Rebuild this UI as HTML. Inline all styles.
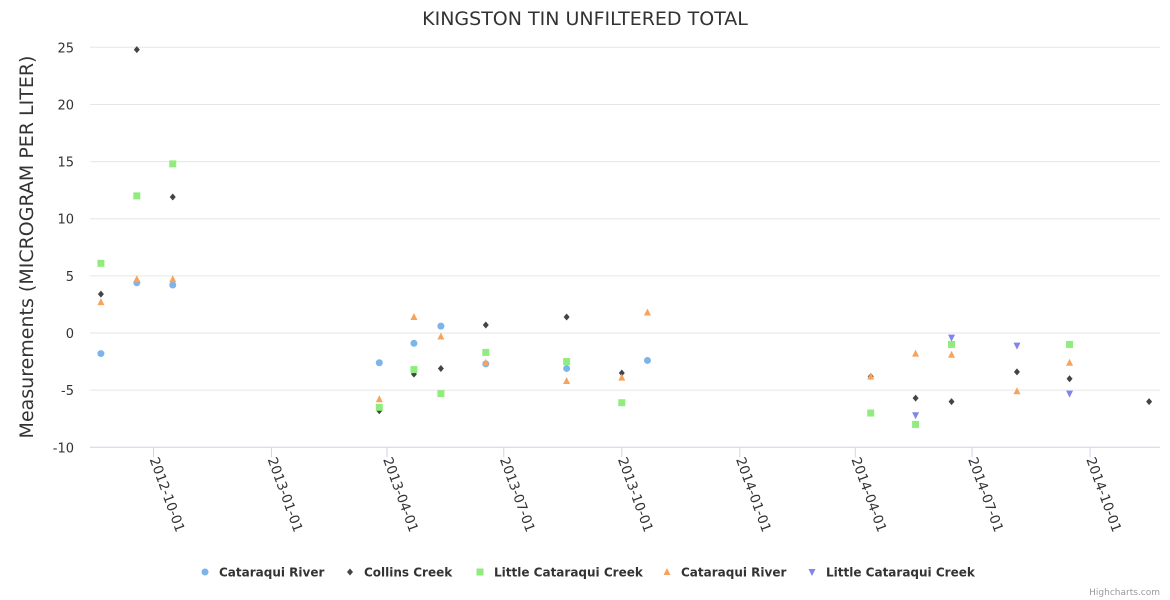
<!DOCTYPE html>
<html><head><meta charset="utf-8"><style>
html,body{margin:0;padding:0;background:#fff;}
svg{display:block;font-family:"DejaVu Sans","Liberation Sans",sans-serif;}
</style></head><body>
<svg id="chart" width="1170" height="600" xmlns="http://www.w3.org/2000/svg">
<text x="585" y="25" text-anchor="middle" font-size="19" fill="#333">KINGSTON TIN UNFILTERED TOTAL</text>
<text transform="translate(33,247) rotate(-90)" text-anchor="middle" font-size="19" fill="#333">Measurements (MICROGRAM PER LITER)</text>
<g id="grid"></g>
<g id="xaxis"></g>
<g id="series"></g>
<g id="legend"></g>
<text x="1160" y="595" text-anchor="end" font-size="9" fill="#999">Highcharts.com</text>
</svg>
<script>
const yTicks = [-10,-5,0,5,10,15,20,25];
const xTicks = ["2012-10-01","2013-01-01","2013-04-01","2013-07-01","2013-10-01","2014-01-01","2014-04-01","2014-07-01","2014-10-01"];
const seriesNames = ["Cataraqui River","Collins Creek","Little Cataraqui Creek","Cataraqui River","Little Cataraqui Creek"];
const seriesColors = ["#7cb5ec","#434348","#90ed7d","#f7a35c","#8085e9"];
const seriesSymbols = ["circle","diamond","square","triangle","triangle-down"];
const s0Dates = ["2012-08-21","2012-09-18","2012-10-16","2013-03-26","2013-04-22","2013-05-13","2013-06-17","2013-08-19","2013-10-21"];
const s0Values = [-1.8,4.4,4.2,-2.6,-0.9,0.6,-2.7,-3.1,-2.4];
const s1Dates = ["2012-08-21","2012-09-18","2012-10-16","2013-03-26","2013-04-22","2013-05-13","2013-06-17","2013-08-19","2013-10-01","2014-04-13","2014-05-18","2014-06-15","2014-08-05","2014-09-15","2014-11-16"];
const s1Values = [3.4,24.8,11.9,-6.8,-3.6,-3.1,0.7,1.4,-3.5,-3.8,-5.7,-6.0,-3.4,-4.0,-6.0];
const s2Dates = ["2012-08-21","2012-09-18","2012-10-16","2013-03-26","2013-04-22","2013-05-13","2013-06-17","2013-08-19","2013-10-01","2014-04-13","2014-05-18","2014-06-15","2014-09-15"];
const s2Values = [6.1,12.0,14.8,-6.5,-3.2,-5.3,-1.7,-2.5,-6.1,-7.0,-8.0,-1.0,-1.0];
const s3Dates = ["2012-08-21","2012-09-18","2012-10-16","2013-03-26","2013-04-22","2013-05-13","2013-06-17","2013-08-19","2013-10-01","2013-10-21","2014-04-13","2014-05-18","2014-06-15","2014-08-05","2014-09-15"];
const s3Values = [2.7,4.7,4.7,-5.8,1.4,-0.3,-2.6,-4.2,-3.9,1.8,-3.8,-1.8,-1.9,-5.1,-2.6];
const s4Dates = ["2014-05-18","2014-06-15","2014-08-05","2014-09-15"];
const s4Values = [-7.2,-0.4,-1.1,-5.3];

const NS="http://www.w3.org/2000/svg";
const X0=90,X1=1160,Y0=447.3,Y1=47.3;
const dayMs=86400000;
const ref=Date.UTC(2012,9,1);
function days(s){const p=s.split("-");return (Date.UTC(+p[0],+p[1]-1,+p[2])-ref)/dayMs;}
const dMin=(X0-153.5)/1.283, dMax=(X1-153.5)/1.283;
function xs(s){return X0+(days(s)-dMin)/(dMax-dMin)*(X1-X0);}
function ys(v){return Y0+(v+10)/35*(Y1-Y0);}
function mk(tag,attrs,parent){const e=document.createElementNS(NS,tag);for(const k in attrs)e.setAttribute(k,attrs[k]);parent.appendChild(e);return e;}
const grid=document.getElementById("grid");
yTicks.forEach(v=>{
  const y=ys(v);
  if(v!==-10){const l=mk("line",{x1:X0,x2:X1,y1:y,y2:y,stroke:"#e6e6e6","stroke-width":1},grid);
  
  }
  const t=mk("text",{x:74,y:y+5,"text-anchor":"end","font-size":13,fill:"#333"},grid);
  t.textContent=v;
  
  
});
const xa=document.getElementById("xaxis");
const al=mk("line",{x1:X0,x2:X1,y1:Y0,y2:Y0,stroke:"#ccd6eb","stroke-width":1},xa);


xTicks.forEach(s=>{
  const x=xs(s);
  const tk=mk("line",{x1:x,x2:x,y1:Y0,y2:Y0+10,stroke:"#ccd6eb"},xa);
  
  
  const t=mk("text",{transform:`translate(${x-4},${Y0+12}) rotate(70)`,"font-size":13.5,fill:"#333"},xa);
  t.textContent=s;
  
  
});
function sym(type,cx,cy,color,parent){
  let e;
  if(type==="circle")e=mk("circle",{cx:cx,cy:cy,r:3.5,fill:color},parent);
  else if(type==="diamond")e=mk("path",{d:`M${cx},${cy-3.5}L${cx+3},${cy}L${cx},${cy+3.5}L${cx-3},${cy}Z`,fill:color},parent);
  else if(type==="square")e=mk("rect",{x:cx-3.5,y:cy-3.5,width:7,height:7,fill:color},parent);
  else if(type==="triangle")e=mk("path",{d:`M${cx},${cy-4}L${cx+3.5},${cy+3}L${cx-3.5},${cy+3}Z`,fill:color},parent);
  else e=mk("path",{d:`M${cx},${cy+4}L${cx+3.5},${cy-3}L${cx-3.5},${cy-3}Z`,fill:color},parent);
  return e;
}
const allDates=[s0Dates,s1Dates,s2Dates,s3Dates,s4Dates];
const allVals=[s0Values,s1Values,s2Values,s3Values,s4Values];
const sg=document.getElementById("series");
allDates.forEach((ds,i)=>{
  const g=mk("g",{},sg);
  
  
  ds.forEach((d,j)=>{
    const p=sym(seriesSymbols[i],xs(d),ys(allVals[i][j]),seriesColors[i],g);
    
    
  });
});
const lg=document.getElementById("legend");
const legX=[205,350,480,667,812];
seriesNames.forEach((n,i)=>{
  const g=mk("g",{},lg);
  
  
  sym(seriesSymbols[i],legX[i],572,seriesColors[i],g);
  const t=mk("text",{x:legX[i]+14,y:576.5,"font-size":12,"font-weight":"bold",fill:"#333"},g);
  t.textContent=n;
});
</script>
</body></html>
